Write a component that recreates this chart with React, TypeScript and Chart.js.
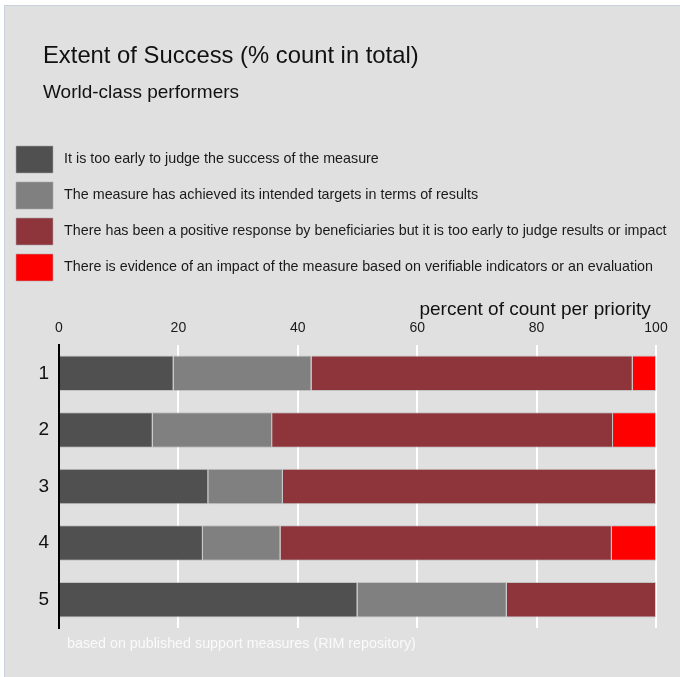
import { useEffect, useRef } from 'react';
import { Chart, registerables } from 'chart.js';

Chart.register(...registerables);

// ---- data ----
const priorities = ['1', '2', '3', '4', '5'];
const tooEarly = [19.2, 15.7, 25.0, 24.1, 50.0];
const achieved = [23.1, 20.0, 12.5, 13.0, 25.0];
const positiveResponse = [53.8, 57.1, 62.5, 55.5, 25.0];
const evidence = [3.9, 7.2, 0, 7.4, 0];
const seriesLabels = [
  'It is too early to judge the success of the measure',
  'The measure has achieved its intended targets in terms of results',
  'There has been a positive response by beneficiaries but it is too early to judge results or impact',
  'There is evidence of an impact of the measure based on verifiable indicators or an evaluation',
];
const seriesColors = ['#505050', '#808080', '#8e353c', '#ff0000'];
const titleText = 'Extent of Success (% count in total)';
const subtitleText = 'World-class performers';
const axisTitle = 'percent of count per priority';
const footerText = 'based on published support measures (RIM repository)';

const FONT = '"Liberation Sans", Arial, Helvetica, sans-serif';

export default function App() {
  const ref = useRef<HTMLCanvasElement>(null);

  useEffect(() => {
    Chart.defaults.font.family = FONT;
    const values = [tooEarly, achieved, positiveResponse, evidence];
    const chart = new Chart(ref.current!, {
      type: 'bar',
      data: {
        labels: priorities,
        datasets: values.map((v, i) => ({
          label: seriesLabels[i],
          data: v,
          backgroundColor: seriesColors[i],
          borderColor: 'rgba(170,170,170,0.55)',
          borderWidth: 1,
          barPercentage: 0.627,
          categoryPercentage: 1,
        })),
      },
      options: {
        indexAxis: 'y',
        responsive: true,
        maintainAspectRatio: false,
        animation: false,
        layout: { padding: { top: 131, left: 2, right: 0, bottom: 49 } },
        plugins: {
          tooltip: { enabled: false },
          title: { display: false },
          legend: {
            position: 'top',
            align: 'start',
            labels: {
              boxWidth: 37,
              boxHeight: 27,
              padding: 9,
              color: '#1a1a1a',
              font: { size: 14.3 },
              generateLabels: (c: any) =>
                Chart.defaults.plugins.legend.labels
                  .generateLabels(c)
                  .map((l: any) => ({ ...l, text: ' ' + l.text })),
            },
          },
        },
        scales: {
          x: {
            type: 'linear',
            position: 'top',
            stacked: true,
            min: 0,
            max: 100,
            ticks: { stepSize: 20, padding: 8, color: '#1a1a1a', font: { size: 14 } },
            grid: { color: '#ffffff', lineWidth: 2, drawTicks: false },
            border: { display: false },
            title: {
              display: true,
              text: axisTitle + ' ',
              align: 'end',
              color: '#111',
              font: { size: 19 },
              padding: { top: 7.1, bottom: -8.7 },
            },
          },
          y: {
            type: 'category',
            stacked: true,
            grid: { display: false, drawTicks: false },
            border: { display: true, color: '#000', width: 2, z: 1 },
            ticks: { padding: 10, color: '#111', font: { size: 19 } },
            afterFit: (s: any) => {
              s.width = 52;
            },
          },
          yRight: {
            type: 'category',
            position: 'right',
            display: true,
            grid: { display: false, drawTicks: false },
            border: { display: false },
            ticks: { display: false },
            afterFit: (s: any) => {
              s.width = 24;
            },
          },
        },
      },
    } as any);
    return () => chart.destroy();
  }, []);

  return (
    <div
      style={{
        position: 'fixed',
        left: 4,
        top: 5,
        width: 676,
        height: 672,
        boxSizing: 'border-box',
        borderLeft: '1px solid #c8d3df',
        borderTop: '1px solid #c8d3df',
        background: '#e0e0e0',
        fontFamily: FONT,
        overflow: 'hidden',
      }}
    >
      <div style={{ position: 'absolute', left: 0, top: 0, width: 675, height: 671 }}>
        <canvas ref={ref} />
      </div>
      <div style={{ position: 'absolute', left: 38, top: 37, fontSize: 23.8, lineHeight: '24px', color: '#111', whiteSpace: 'nowrap' }}>
        {titleText}
      </div>
      <div style={{ position: 'absolute', left: 38, top: 76, fontSize: 19, lineHeight: '19px', color: '#111', whiteSpace: 'nowrap' }}>
        {subtitleText}
      </div>
      <div style={{ position: 'absolute', left: 62, top: 630, fontSize: 14.3, lineHeight: '14px', color: '#fafafa', whiteSpace: 'nowrap' }}>
        {footerText}
      </div>
    </div>
  );
}
